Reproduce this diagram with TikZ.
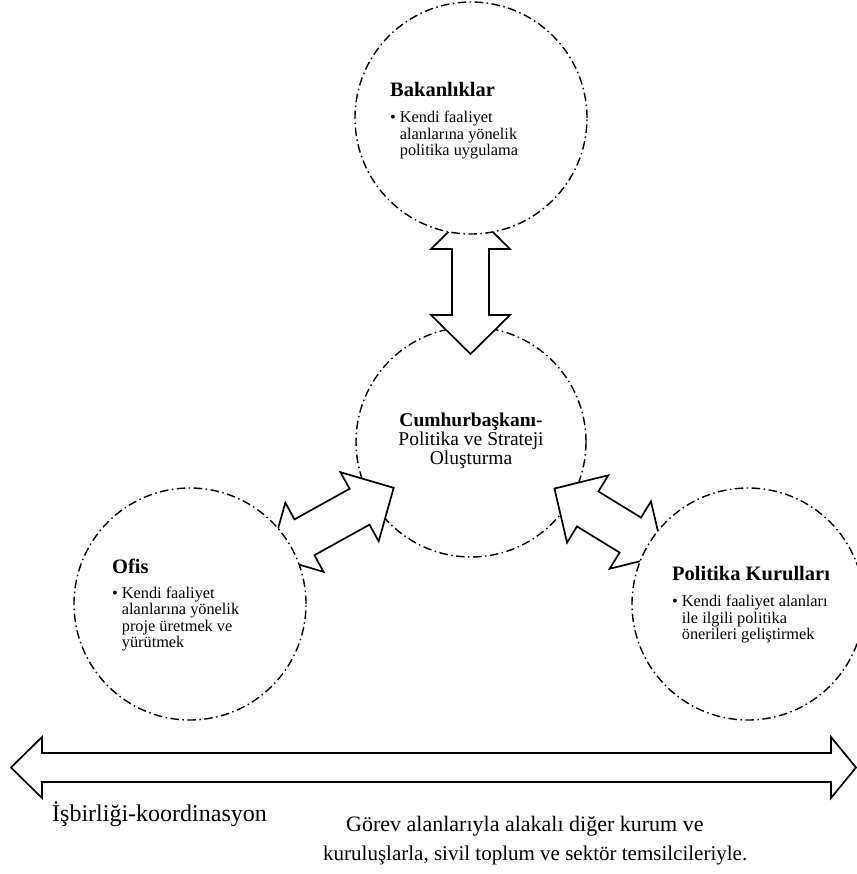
\documentclass[tikz,border=0pt]{standalone}
\usepackage{fontspec}
\setmainfont{Liberation Serif}
\begin{document}
\begin{tikzpicture}[x=1pt,y=-1pt,
  circ/.style={circle, draw, fill=white, line width=1.4pt, inner sep=0pt,
    dash pattern=on 8.5pt off 3.5pt on 1.5pt off 3.5pt, minimum size=#1},
  blk/.style={draw, fill=white, line width=1.7pt, line join=miter},
  txt/.style={anchor=base west, inner sep=0pt, font=\fontsize{16.3}{16.5}\selectfont},
  ctr/.style={anchor=base, inner sep=0pt, font=\fontsize{19.5}{19}\selectfont},
  bot/.style={anchor=base west, inner sep=0pt}]
\useasboundingbox (0,0) rectangle (856,874);
% central circle
\node[circ=230pt] (cb) at (471,442) {};
% block arrows
\begin{scope}[shift={(470.5,282)}, rotate=90]
\draw[blk] (72,0) -- (33,39.5) -- (33,18.5) -- (-33,18.5) -- (-33,39.5) -- (-72,0)
  -- (-33,-39.5) -- (-33,-18.5) -- (33,-18.5) -- (33,-39.5) -- cycle;
\end{scope}
\begin{scope}[shift={(332,522)}, rotate=29]
\draw[blk] (70.5,0) -- (31.5,39.5) -- (31.5,20.5) -- (-31.5,20.5) -- (-31.5,39.5) -- (-70.5,0)
  -- (-31.5,-39.5) -- (-31.5,-20.5) -- (31.5,-20.5) -- (31.5,-39.5) -- cycle;
\end{scope}
\begin{scope}[shift={(609,522)}, rotate=-31.5]
\draw[blk] (64,0) -- (25,39.5) -- (25,20.5) -- (-25,20.5) -- (-25,39.5) -- (-64,0)
  -- (-25,-39.5) -- (-25,-20.5) -- (25,-20.5) -- (25,-39.5) -- cycle;
\end{scope}
% outer circles
\node[circ=232pt] (bak) at (471,118) {};
\node[circ=232pt] (ofis) at (190,604) {};
\node[circ=232pt] (pk) at (748,604) {};
% texts
\node[txt] (bakT) at (390,97) {\begin{tabular}[t]{@{}l@{\hspace{4pt}}l@{}}
  \multicolumn{2}{@{}l@{}}{\bfseries\fontsize{20.5}{20}\selectfont Bakanlıklar}\\[9.5pt]
  \textbullet & Kendi faaliyet\\
  & alanlarına yönelik\\
  & politika uygulama
  \end{tabular}};
\node[ctr] (cbT) at (471,426) {\begin{tabular}[t]{@{}c@{}}
  \bfseries Cumhurbaşkanı-\\
  Politika ve Strateji\\
  Oluşturma
  \end{tabular}};
\node[txt] (ofisT) at (112,573) {\begin{tabular}[t]{@{}l@{\hspace{4pt}}l@{}}
  \multicolumn{2}{@{}l@{}}{\bfseries\fontsize{20.5}{20}\selectfont Ofis}\\[8.5pt]
  \textbullet & Kendi faaliyet\\
  & alanlarına yönelik\\
  & proje üretmek ve\\
  & yürütmek
  \end{tabular}};
\node[txt] (pkT) at (672,580) {\begin{tabular}[t]{@{}l@{\hspace{4pt}}l@{}}
  \multicolumn{2}{@{}l@{}}{\bfseries\fontsize{20.5}{20}\selectfont Politika Kurulları}\\[10pt]
  \textbullet & Kendi faaliyet alanları\\
  & ile ilgili politika\\
  & önerileri geliştirmek
  \end{tabular}};
% bottom double arrow
\draw[blk] (11,767.5) -- (42,737) -- (42,753) -- (831,753) -- (831,737) -- (856,767.5)
  -- (831,798) -- (831,782) -- (42,782) -- (42,798) -- cycle;
\node[bot, font=\fontsize{24}{24}\selectfont] (isb) at (52,821) {İşbirliği-koordinasyon};
\node[bot, font=\fontsize{22}{22}\selectfont] (gor1) at (346,831) {Görev alanlarıyla alakalı diğer kurum ve};
\node[bot, font=\fontsize{21}{21}\selectfont] (gor2) at (323,860) {kuruluşlarla, sivil toplum ve sektör temsilcileriyle.};
\end{tikzpicture}
\end{document}
